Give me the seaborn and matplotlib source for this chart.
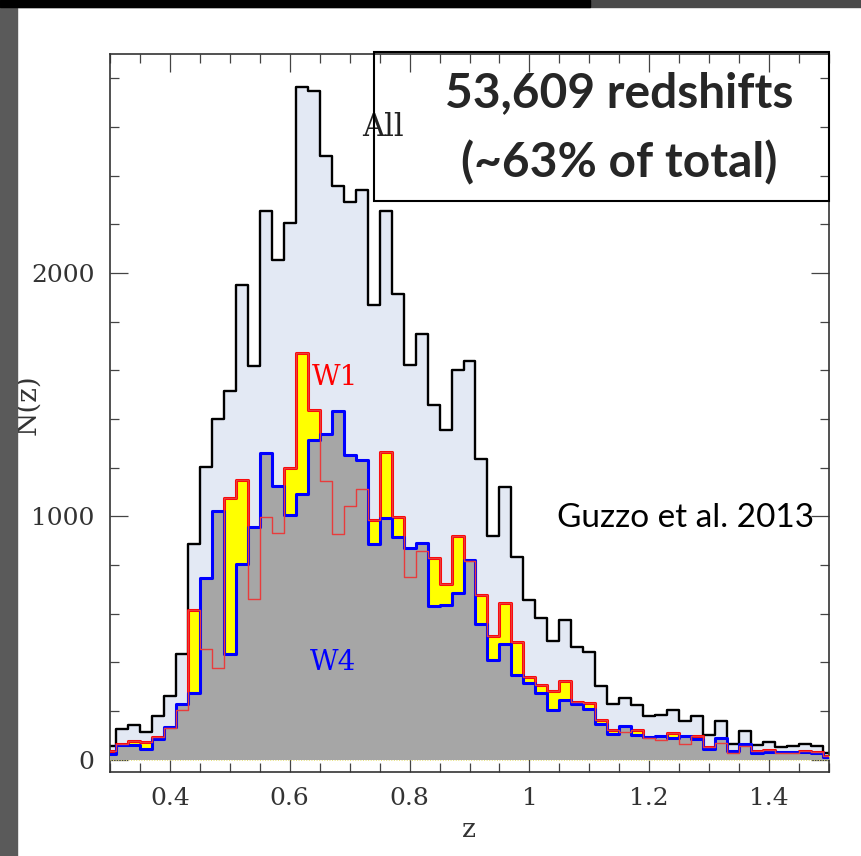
import numpy as np
import pandas as pd
import matplotlib
matplotlib.use("Agg")
import matplotlib.pyplot as plt
from matplotlib.patches import Rectangle
from matplotlib.ticker import MultipleLocator, FixedLocator, FixedFormatter
import seaborn as sns

# Redshift bin centres (bin width 0.02)
z_bins = np.round(np.arange(61) * 0.02 + 0.30, 2)

# Number of redshifts per bin
n_all = [58, 127, 142, 116, 182, 263, 436, 886, 1203, 1400,
         1517, 1952, 1617, 2256, 2055, 2205, 2764, 2746, 2481, 2358,
         2293, 2343, 1867, 2256, 1912, 1622, 1749, 1457, 1356, 1600,
         1637, 1237, 921, 1121, 834, 655, 582, 490, 573, 463,
         442, 304, 229, 256, 225, 181, 185, 204, 159, 182,
         100, 159, 66, 118, 62, 73, 52, 55, 67, 55, 30]
n_w1 = [35, 66, 77, 73, 95, 130, 206, 614, 455, 378,
        1075, 1151, 662, 996, 931, 1199, 1671, 1439, 1145, 928,
        1041, 1114, 986, 1263, 996, 753, 859, 830, 721, 918,
        815, 677, 510, 644, 485, 342, 308, 281, 322, 237,
        233, 162, 123, 114, 122, 89, 82, 112, 64, 96,
        52, 70, 29, 55, 37, 40, 27, 27, 37, 33, 14]
n_w4 = [22, 62, 62, 44, 85, 135, 230, 274, 749, 1022,
        436, 804, 956, 1262, 1127, 1005, 1091, 1314, 1339, 1435,
        1254, 1232, 886, 995, 915, 869, 891, 632, 636, 685,
        822, 559, 411, 477, 347, 315, 274, 206, 247, 231,
        210, 147, 106, 141, 104, 92, 99, 90, 96, 86,
        45, 88, 37, 64, 27, 34, 31, 33, 33, 27, 11]

xtick_vals = [0.4, 0.6, 0.8, 1.0, 1.2, 1.4]
xtick_text = ["0.4", "0.6", "0.8", "1", "1.2", "1.4"]
ytick_vals = [0, 1000, 2000]
ytick_text = ["0", "1000", "2000"]

df = pd.DataFrame({"z": z_bins, "All": n_all, "W1": n_w1, "W4": n_w4})
edges = np.round(np.linspace(0.29, 1.51, 62), 2).tolist()

sns.set_style("ticks")
plt.rcParams["font.family"] = ["DejaVu Serif"]

fig = plt.figure(figsize=(8.62, 8.56), dpi=100)
fig.patch.set_facecolor("white")

# dark frame strips along the left and top edges
fig.patches.append(Rectangle((0, 0), 17 / 862, 1, transform=fig.transFigure,
                             color="#5a5a5a", zorder=0))
fig.patches.append(Rectangle((0, 1 - 7 / 856), 1, 7 / 856, transform=fig.transFigure,
                             color="#4a4a4a", zorder=0))
fig.patches.append(Rectangle((0, 1 - 7 / 856), 590 / 862, 7 / 856, transform=fig.transFigure,
                             color="#000000", zorder=0))

ax = fig.add_axes([110 / 862, 84 / 856, 719 / 862, 718 / 856])
ax.set_axisbelow(True)

common = dict(data=df, x="z", bins=edges, element="step", ax=ax, legend=False)

sns.histplot(weights="All", fill=True, color="#e3e9f4", alpha=1, linewidth=0, zorder=1, **common)
sns.histplot(weights="All", fill=False, color="black", linewidth=1.7, zorder=2, **common)
sns.histplot(weights="W1", fill=True, color="#ffff00", alpha=1, linewidth=0, zorder=3, **common)
sns.histplot(weights="W1", fill=False, color="#ff0000", linewidth=2.2, zorder=4, **common)
sns.histplot(weights="W4", fill=True, color="#a6a6a6", alpha=1, linewidth=0, zorder=5, **common)
sns.histplot(weights="W4", fill=False, color="#0000ff", linewidth=2.2, zorder=6, **common)
sns.histplot(weights="W1", fill=False, color="#e83c3c", linewidth=1.0, zorder=7, **common)
ax.axhline(0, color="#e6e07a", lw=0.7, ls=":", zorder=7.5)

ax.set_xlim(0.3, 1.5)
ax.set_ylim(-50, 2900)

ax.xaxis.set_major_locator(FixedLocator(xtick_vals))
ax.xaxis.set_major_formatter(FixedFormatter(xtick_text))
ax.xaxis.set_minor_locator(MultipleLocator(0.05))
ax.yaxis.set_major_locator(FixedLocator(ytick_vals))
ax.yaxis.set_major_formatter(FixedFormatter(ytick_text))
ax.yaxis.set_minor_locator(MultipleLocator(200))

ax.tick_params(which="both", direction="in", top=True, right=True,
               color="#444444", width=0.9, labelsize=18, labelcolor="#333333", pad=11)
ax.tick_params(which="major", length=13)
ax.tick_params(which="minor", length=6.5)
for sp in ax.spines.values():
    sp.set_linewidth(1.2)
    sp.set_color("#333333")

ax.set_xlabel("z", fontsize=19, color="#333333")
ax.set_ylabel("N(z)", fontsize=20, color="#333333")
ax.xaxis.set_label_coords(0.4993, -0.062)
ax.yaxis.set_label_coords(-0.095, 0.511)

ax.text(0.755, 2600, "All", fontsize=22, ha="center", va="center", color="#222222", zorder=9)
ax.text(0.675, 1570, "W1", fontsize=20, ha="center", va="center", color="#ff0000", zorder=9)
ax.text(0.673, 399, "W4", fontsize=20, ha="center", va="center", color="#0000ff", zorder=9)
ax.text(1.26, 995, "Guzzo et al. 2013", fontsize=24, ha="center", va="center",
        family=["Lato", "DejaVu Sans"], color="black", zorder=9)

# sample summary box
fig.patches.append(Rectangle((374 / 862, 1 - 201 / 856), 455 / 862, 149 / 856,
                             transform=fig.transFigure, fill=False, ec="black", lw=1.5, zorder=10))
fig.text(619 / 862, 1 - 93 / 856, "53,609 redshifts", fontsize=34.5, fontweight="bold",
         family=["Lato", "DejaVu Sans"], ha="center", va="center", zorder=11)
fig.text(619 / 862, 1 - 163 / 856, "(~63% of total)", fontsize=34.5, fontweight="bold",
         family=["Lato", "DejaVu Sans"], ha="center", va="center", zorder=11)

fig.savefig("out.png", dpi=100, facecolor="white")
